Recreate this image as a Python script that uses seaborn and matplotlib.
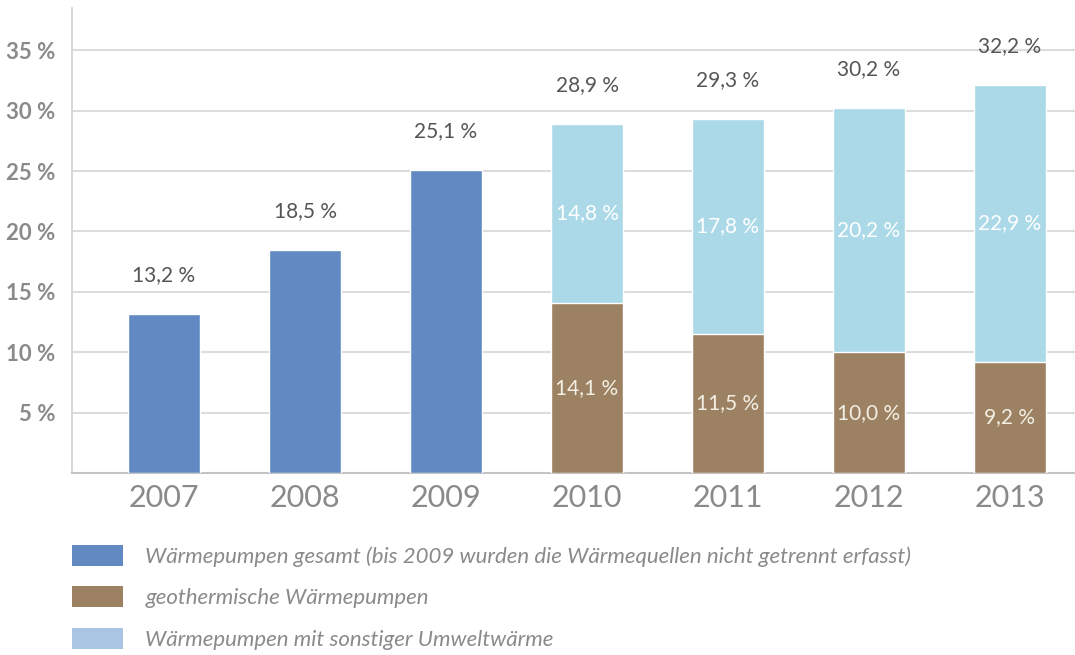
import numpy as np
import pandas as pd
import matplotlib
matplotlib.use('Agg')
import matplotlib.pyplot as plt
import seaborn as sns
from matplotlib.patches import Patch

# data
years = ['2007', '2008', '2009', '2010', '2011', '2012', '2013']
years_total = ['2007', '2008', '2009']
total_values = [13.2, 18.5, 25.1]
years_split = ['2010', '2011', '2012', '2013']
geo_values = [14.1, 11.5, 10.0, 9.2]
other_values = [14.8, 17.8, 20.2, 22.9]
split_totals = [28.9, 29.3, 30.2, 32.2]
y_ticks = [5, 10, 15, 20, 25, 30, 35]
legend_labels = [
    'Wärmepumpen gesamt (bis 2009 wurden die Wärmequellen nicht getrennt erfasst)',
    'geothermische Wärmepumpen',
    'Wärmepumpen mit sonstiger Umweltwärme',
]

c_total = '#6289c1'
c_geo = '#9c8262'
c_other = '#abd9e7'
c_other_legend = '#aac4e4'

sns.set_style('white')
plt.rcParams['font.family'] = ['Lato', 'DejaVu Sans']


def fmt(v):
    return f'{v:.1f} %'.replace('.', ',')


fig = plt.figure(figsize=(10.75, 6.55), dpi=100)
ax = fig.add_axes([72 / 1075, 1 - 473 / 655, 1 - 72 / 1075, (473 - 8) / 655])

df_total = pd.DataFrame({'year': years_total, 'value': total_values})
df_split = pd.DataFrame({'year': years_split, 'geo': geo_values, 'other': other_values})
df_split['stack'] = df_split['geo'] + df_split['other']

w = 0.51
sns.barplot(data=df_total, x='year', y='value', order=years, color=c_total,
            width=w, saturation=1, ax=ax, zorder=3)
sns.barplot(data=df_split, x='year', y='stack', order=years, color=c_other,
            width=w, saturation=1, ax=ax, zorder=3)
sns.barplot(data=df_split, x='year', y='geo', order=years, color=c_geo,
            width=w, saturation=1, ax=ax, zorder=3)

# value labels
for yr, v in zip(years_total, total_values):
    i = years.index(yr)
    ax.text(i, v + 3.2, fmt(v), ha='center', va='center', fontsize=15, color='#555555')
for _, row in df_split.iterrows():
    i = years.index(row['year'])
    tot = split_totals[years_split.index(row['year'])]
    ax.text(i, row['stack'] + 3.2, fmt(tot), ha='center', va='center', fontsize=15, color='#555555')
    ax.text(i, row['geo'] + row['other'] / 2, fmt(row['other']), ha='center', va='center',
            fontsize=15, color='#ffffff')
    ax.text(i, row['geo'] / 2, fmt(row['geo']), ha='center', va='center',
            fontsize=15, color='#f3efe4')

ax.set_xlim((72 - 164) / 141, (1075 - 164) / 141)
ax.set_ylim(0, (473 - 8) / 12.08)
ax.set_yticks(y_ticks)
ax.set_yticklabels([f'{t} %' for t in y_ticks])
ax.set_xlabel('')
ax.set_ylabel('')
ax.grid(axis='y', color='#dcdcdc', linewidth=1.5, zorder=0)
ax.set_axisbelow(True)
for s in ['top', 'right']:
    ax.spines[s].set_visible(False)
ax.spines['left'].set_color('#d0d0d0')
ax.spines['bottom'].set_color('#c4c4c4')
ax.spines['left'].set_linewidth(1.2)
ax.spines['bottom'].set_linewidth(1.5)
ax.tick_params(axis='y', length=0, pad=12, labelsize=16, labelcolor='#8a8a8a')
ax.tick_params(axis='x', length=0, pad=8, labelsize=22, labelcolor='#8a8a8a')
for t in ax.get_yticklabels():
    t.set_fontweight('bold')

handles = [Patch(facecolor=c, edgecolor='none') for c in [c_total, c_geo, c_other_legend]]
fig.legend(handles, legend_labels, loc='upper left',
           bbox_to_anchor=(72 / 1075, 1 - 545 / 655), frameon=False,
           prop={'style': 'italic', 'size': 16}, labelcolor='#8a8a8a',
           handlelength=2.3, handleheight=1.05, handletextpad=1.0,
           labelspacing=0.88, borderpad=0, borderaxespad=0)

fig.savefig('out.png', dpi=100)
